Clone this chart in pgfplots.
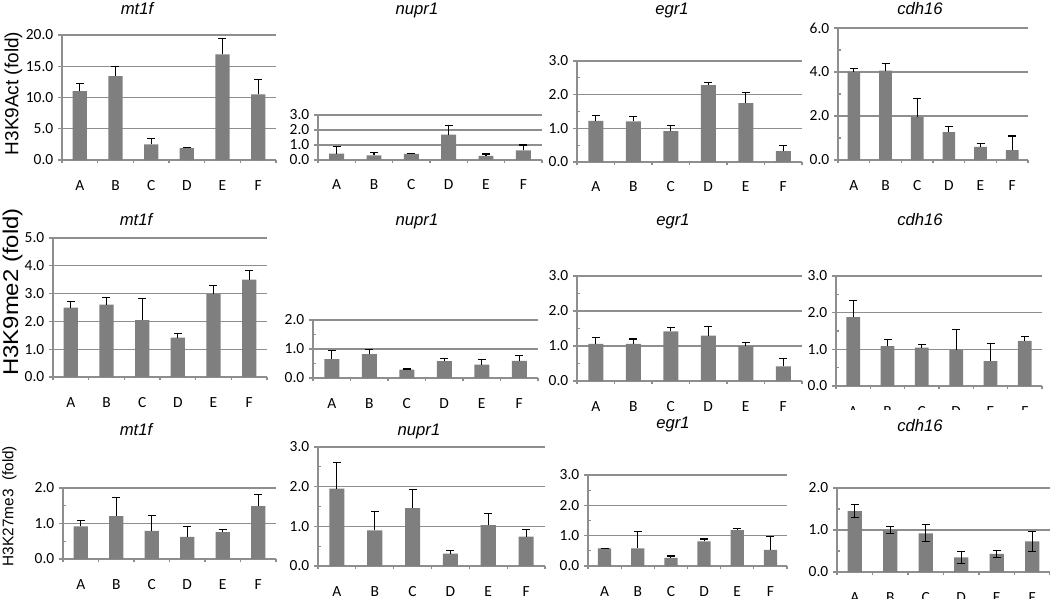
\documentclass[border=0pt]{standalone}
\usepackage{graphicx}
\usepackage{pgfplots}
\pgfplotsset{compat=1.18}
\usepackage{fontspec}
\setmainfont{Carlito}
\newfontfamily\arialf{Liberation Sans}
\definecolor{bargray}{HTML}{7F7F7F}
\definecolor{gridgray}{HTML}{8E8E8E}
\pgfplotsset{
  panel/.style={
    scale only axis, anchor=south west,
    xmin=0.5, xmax=6.5, ymin=0,
    axis x line*=bottom, axis y line*=left,
    axis line style={draw=gridgray, line width=0.8pt},
    ymajorgrids, major grid style={draw=gridgray, line width=0.8pt},
    xtick={1,...,6}, xticklabels={A,B,C,D,E,F},
    minor xtick={0.5,1.5,...,6.5},
    tick align=outside,
    major tick length=3pt,
    minor tick length=2.6pt,
    major x tick style={draw=none},
    minor x tick style={draw=gridgray, line width=0.8pt},
    y tick style={draw=gridgray, line width=0.8pt},
    minor y tick style={xshift=2.6pt},
    tick label style={font=\fontsize{11.6}{13}\selectfont},
    /pgf/number format/assume math mode=true,
    yticklabel style={/pgf/number format/.cd, fixed, fixed zerofill, precision=1},
    xticklabel style={anchor=base, yshift=-19.5pt},
    clip=false,
  },
  bars/.style={ybar, bar width=0.4, fill=bargray, draw=none,
    error bars/.cd, y dir=plus, y explicit,
    error bar style={black, line width=0.8pt},
    error mark options={black, rotate=90, mark size=3pt, line width=0.8pt}},
  barsboth/.style={ybar, bar width=0.4, fill=bargray, draw=none,
    error bars/.cd, y dir=both, y explicit,
    error bar style={black, line width=0.8pt},
    error mark options={black, rotate=90, mark size=3pt, line width=0.8pt}},
}
\newcommand{\ttl}[3]{\node[anchor=base, font=\arialf\itshape\fontsize{12.5}{15}\selectfont] at (#1*0.75pt,-#2*0.75pt) {#3};}
\begin{document}
\begin{tikzpicture}
\useasboundingbox (0,0) rectangle (787.5pt,-449.25pt);

% ---------------- Row 1: H3K9Act ----------------
\begin{axis}[panel, at={(46.5pt,-120pt)}, width=160.5pt, height=93.75pt, ymax=20, ytick={0,5,10,15,20}]
\addplot[bars] table[x=x,y=y,y error=e]{
x y e
1 11.0 1.3
2 13.4 1.5
3 2.5 1.0
4 1.9 0.15
5 16.9 2.6
6 10.5 2.4
};
\end{axis}
\begin{axis}[panel, at={(238.5pt,-120pt)}, width=168pt, height=33.75pt, ymax=3, ytick={0,1,2,3}]
\addplot[bars] table[x=x,y=y,y error=e]{
x y e
1 0.42 0.51
2 0.31 0.16
3 0.40 0.05
4 1.69 0.62
5 0.27 0.13
6 0.64 0.36
};
\end{axis}
\begin{axis}[panel, at={(432.75pt,-121.5pt)}, width=168.75pt, height=75.75pt, ymax=3, ytick={0,1,2,3}, minor y tick num=1]
\addplot[bars] table[x=x,y=y,y error=e]{
x y e
1 1.22 0.15
2 1.21 0.13
3 0.92 0.17
4 2.28 0.07
5 1.75 0.32
6 0.32 0.18
};
\end{axis}
\begin{axis}[panel, at={(628.5pt,-120pt)}, width=142.5pt, height=99pt, ymax=6, ytick={0,2,4,6}, minor y tick num=1]
\addplot[bars] table[x=x,y=y,y error=e]{
x y e
1 4.00 0.15
2 4.06 0.34
3 1.95 0.83
4 1.27 0.24
5 0.60 0.14
6 0.45 0.64
};
\end{axis}

% ---------------- Row 2: H3K9me2 ----------------
\begin{axis}[panel, at={(39.75pt,-282.75pt)}, width=160.5pt, height=104.25pt, ymax=5, ytick={0,1,2,3,4,5}]
\addplot[bars] table[x=x,y=y,y error=e]{
x y e
1 2.50 0.20
2 2.60 0.27
3 2.05 0.78
4 1.42 0.16
5 2.98 0.30
6 3.50 0.32
};
\end{axis}
\begin{axis}[panel, at={(234.75pt,-283.5pt)}, width=168.75pt, height=43.5pt, ymax=2, ytick={0,1,2}, minor y tick num=1]
\addplot[bars] table[x=x,y=y,y error=e]{
x y e
1 0.65 0.31
2 0.82 0.17
3 0.29 0.02
4 0.58 0.08
5 0.46 0.17
6 0.59 0.20
};
\end{axis}
\begin{axis}[panel, at={(432.75pt,-285.75pt)}, width=168.75pt, height=78.75pt, ymax=3, ytick={0,1,2,3}, minor y tick num=1]
\addplot[bars] table[x=x,y=y,y error=e]{
x y e
1 1.06 0.19
2 1.06 0.14
3 1.42 0.12
4 1.30 0.27
5 1.00 0.10
6 0.42 0.21
};
\end{axis}
\begin{axis}[panel, at={(627pt,-289.5pt)}, width=154.5pt, height=82.5pt, ymax=3, ytick={0,1,2,3}, minor y tick num=1]
\addplot[bars] table[x=x,y=y,y error=e]{
x y e
1 1.88 0.44
2 1.09 0.17
3 1.05 0.09
4 0.99 0.55
5 0.68 0.49
6 1.23 0.13
};
\end{axis}
\fill[white] (625pt,-307.5pt) rectangle (787.5pt,-316pt);

% ---------------- Row 3: H3K27me3 ----------------
\begin{axis}[panel, at={(47.25pt,-419.25pt)}, width=159.75pt, height=53.25pt, ymax=2, ytick={0,1,2}, minor y tick num=1]
\addplot[bars] table[x=x,y=y,y error=e]{
x y e
1 0.92 0.16
2 1.21 0.51
3 0.79 0.44
4 0.62 0.30
5 0.76 0.06
6 1.49 0.34
};
\end{axis}
\begin{axis}[panel, at={(238.5pt,-424.5pt)}, width=170.25pt, height=89.25pt, ymax=3, ytick={0,1,2,3}, minor y tick num=1]
\addplot[bars] table[x=x,y=y,y error=e]{
x y e
1 1.95 0.65
2 0.90 0.48
3 1.46 0.46
4 0.31 0.08
5 1.03 0.30
6 0.74 0.18
};
\end{axis}
\begin{axis}[panel, at={(441pt,-424.5pt)}, width=149.25pt, height=68.25pt, ymax=3, ytick={0,1,2,3}, minor y tick num=1]
\addplot[bars] table[x=x,y=y,y error=e]{
x y e
1 0.58 0.01
2 0.58 0.57
3 0.27 0.06
4 0.81 0.08
5 1.18 0.06
6 0.53 0.44
};
\end{axis}
\begin{axis}[panel, at={(627.75pt,-429pt)}, width=159.75pt, height=63pt, ymax=2, ytick={0,1,2}, minor y tick num=1]
\addplot[barsboth] table[x=x,y=y,y error=e]{
x y e
1 1.45 0.16
2 1.00 0.08
3 0.92 0.20
4 0.35 0.14
5 0.43 0.08
6 0.73 0.24
};
\end{axis}

% ---------------- titles ----------------
\ttl{137}{15}{mt1f}
\ttl{417}{15}{nupr1}
\ttl{672}{15}{egr1}
\ttl{920}{15}{cdh16}
\ttl{136}{225}{mt1f}
\ttl{417}{225}{nupr1}
\ttl{673}{225}{egr1}
\ttl{920}{225}{cdh16}
\ttl{136}{435}{mt1f}
\ttl{419}{435}{nupr1}
\ttl{673}{428}{egr1}
\ttl{920}{431}{cdh16}

% ---------------- y labels ----------------
\node[rotate=90, font=\arialf\fontsize{14.25}{16}\selectfont] at (13.5*0.75pt,-93.5*0.75pt) {H3K9Act (fold)};
\node[rotate=90, font=\arialf\fontsize{16}{18}\selectfont] at (12.5*0.75pt,-292*0.75pt) {\scalebox{1.12}[1]{H3K9me2 (fold)}};
\node[rotate=90, font=\arialf\fontsize{11.5}{13}\selectfont] at (9.5*0.75pt,-506*0.75pt) {H3K27me3\ \ (fold)};
\end{tikzpicture}
\end{document}
